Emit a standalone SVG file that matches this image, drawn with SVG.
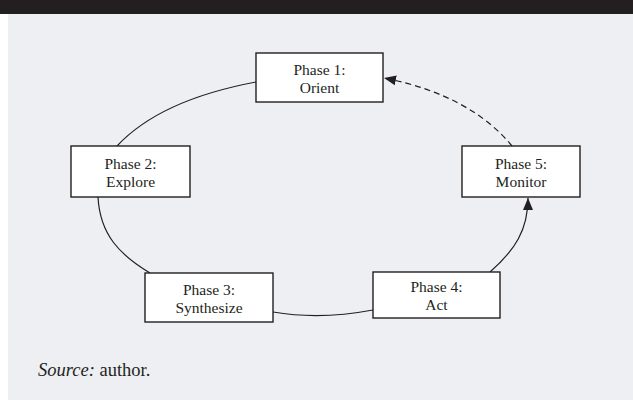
<svg xmlns="http://www.w3.org/2000/svg" width="633" height="400" viewBox="0 0 633 400">
<style>
.box{fill:#ffffff;stroke:#231f20;stroke-width:1.4}
.lbl{font-family:"Liberation Serif","Times New Roman",serif;font-size:15.5px;fill:#231f20;text-anchor:middle}
.con{fill:none;stroke:#231f20;stroke-width:1.2}
.src{font-family:"Liberation Serif","Times New Roman",serif;font-size:18.5px;fill:#231f20}
</style>
<defs>
<marker id="ah" viewBox="0 0 12 10" refX="12" refY="5" markerWidth="12" markerHeight="10" markerUnits="userSpaceOnUse" orient="auto">
<path d="M0,0 L12,5 L0,10 Z" fill="#231f20"/>
</marker>
</defs>
<rect x="0" y="0" width="633" height="400" fill="#ffffff"/>
<rect x="8" y="14" width="625" height="386" fill="#eeeff3"/>
<rect x="0" y="0" width="633" height="14" fill="#231f20"/>
<g id="connectors">
<path class="con" d="M256,82 Q160,100 117,146"/>
<path class="con" d="M98,197 C100,235 120,255 150,273"/>
<path class="con" d="M273,312 Q320,320 373,310"/>
<path class="con" d="M490,272 C515,250 528,230 528,198" marker-end="url(#ah)"/>
<path class="con" d="M512,146 Q470,95 384,78" stroke-dasharray="6,4" marker-end="url(#ah)"/>
</g>
<g id="phase1">
<rect class="box" x="256" y="53" width="127" height="49"/>
<text class="lbl" x="319.5" y="75">Phase 1:</text>
<text class="lbl" x="319.5" y="93">Orient</text>
</g>
<g id="phase2">
<rect class="box" x="71" y="146" width="119" height="51"/>
<text class="lbl" x="130.5" y="169">Phase 2:</text>
<text class="lbl" x="130.5" y="187">Explore</text>
</g>
<g id="phase3">
<rect class="box" x="145" y="273" width="128" height="49"/>
<text class="lbl" x="209" y="295">Phase 3:</text>
<text class="lbl" x="209" y="313">Synthesize</text>
</g>
<g id="phase4">
<rect class="box" x="373" y="272" width="127" height="46"/>
<text class="lbl" x="436.5" y="292">Phase 4:</text>
<text class="lbl" x="436.5" y="310">Act</text>
</g>
<g id="phase5">
<rect class="box" x="462" y="146" width="118" height="51"/>
<text class="lbl" x="521" y="169">Phase 5:</text>
<text class="lbl" x="521" y="187">Monitor</text>
</g>
<text class="src" x="38" y="376"><tspan font-style="italic">Source:</tspan> author.</text>
</svg>
